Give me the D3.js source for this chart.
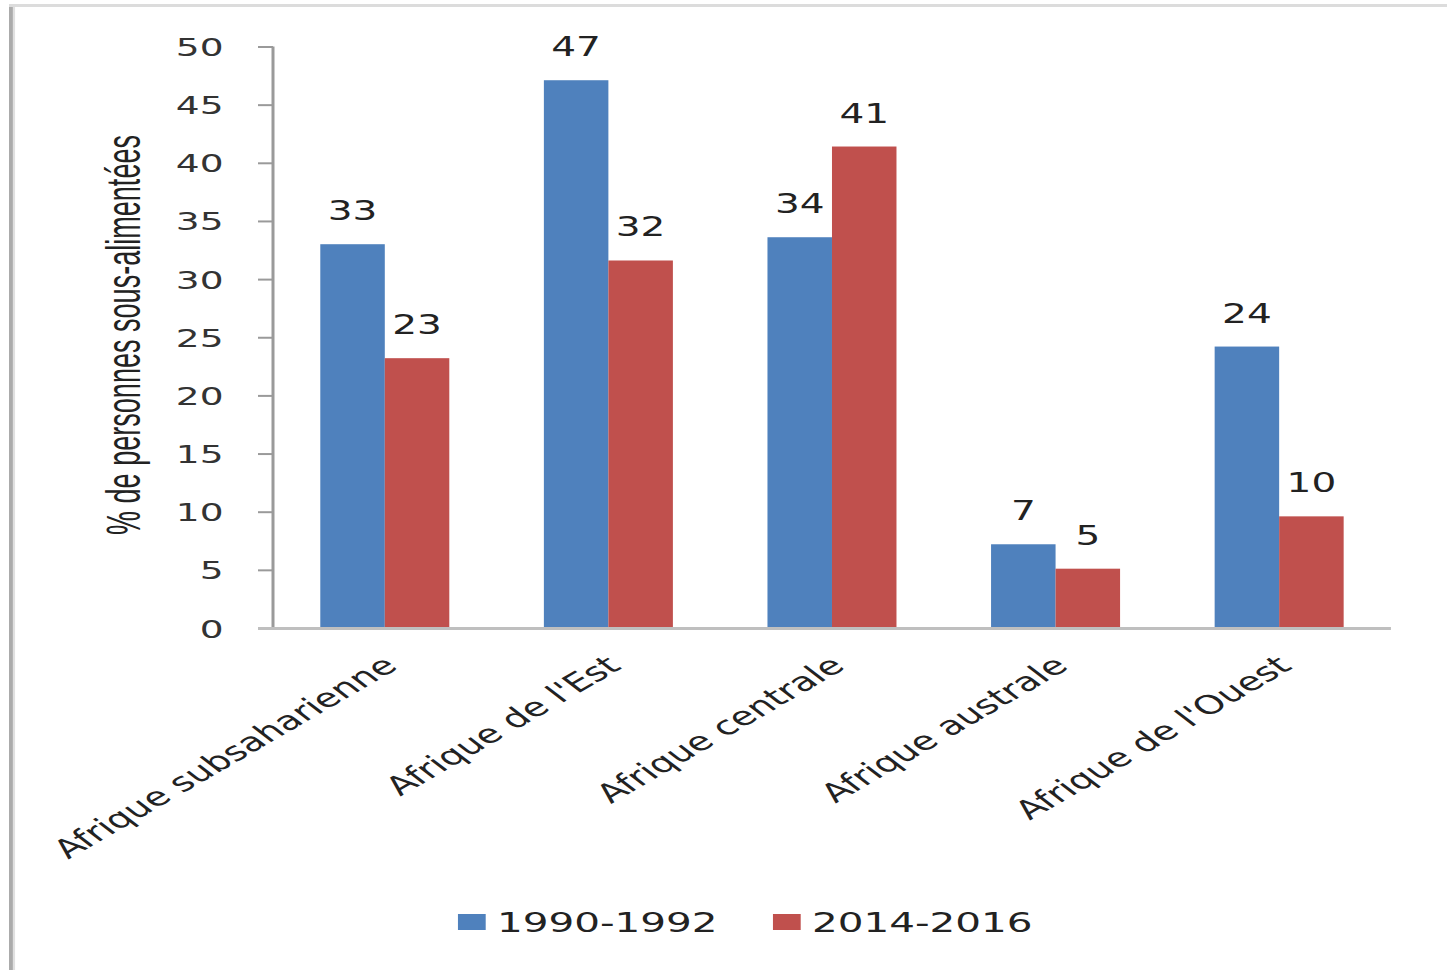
<!DOCTYPE html>
<html>
<head>
<meta charset="utf-8">
<script src="https://cdn.jsdelivr.net/npm/d3@7"></script>
<style>
html,body{margin:0;padding:0;background:#fff;overflow:hidden;}
svg{display:block;}
</style>
</head>
<body>
<script>
// ---- data ----
const categories = ["Afrique subsaharienne", "Afrique de l'Est", "Afrique centrale", "Afrique australe", "Afrique de l'Ouest"];
const series = ["1990-1992", "2014-2016"];
const values1990 = [33.0, 47.1, 33.6, 7.2, 24.2];
const values2014 = [23.2, 31.6, 41.4, 5.1, 9.6];
const labels1990 = ["33", "47", "34", "7", "24"];
const labels2014 = ["23", "32", "41", "5", "10"];
const yTicks = [0, 5, 10, 15, 20, 25, 30, 35, 40, 45, 50];
const yTitle = "% de personnes sous-alimentées";
const colors = ["#4F81BD", "#C0504D"];

// ---- layout (drawn in an unstretched space, stretched horizontally to the window) ----
const W = 1447, H = 970, SX = 1.5;
const W0 = W / SX;
const svg = d3.select("body").append("svg")
  .attr("width", W).attr("height", H)
  .attr("viewBox", `0 0 ${W0} ${H}`)
  .attr("preserveAspectRatio", "none");

// frame
svg.append("line").attr("x1", 7.5).attr("x2", 7.5).attr("y1", 4).attr("y2", H)
  .attr("stroke", "#ababab").attr("stroke-width", 3);
svg.append("line").attr("x1", 9.3).attr("x2", 9.3).attr("y1", 4).attr("y2", H)
  .attr("stroke", "#e0e0e0").attr("stroke-width", 1.5);
svg.append("line").attr("x1", 6).attr("x2", W0).attr("y1", 5.5).attr("y2", 5.5)
  .attr("stroke", "#dcdcdc").attr("stroke-width", 3);

const plotL = 182, plotR = 927.3, plotT = 46.5, plotB = 628;

const y = d3.scaleLinear().domain([0, 50]).range([plotB, plotT]);
const x0 = d3.scaleBand().domain(categories).range([plotL, plotR])
  .paddingInner(0.423).paddingOuter(0.2115);
const x1 = d3.scaleBand().domain(series).range([0, x0.bandwidth()]);

const data = categories.map((c, i) => ({
  cat: c,
  vals: [
    {s: series[0], v: values1990[i], lab: labels1990[i]},
    {s: series[1], v: values2014[i], lab: labels2014[i]}
  ]
}));

// y axis
const yAxis = d3.axisLeft(y).tickValues(yTicks).tickSize(10).tickPadding(23).tickFormat(d3.format("d"));
const gy = svg.append("g").attr("transform", `translate(${plotL},0)`).call(yAxis);
gy.select(".domain").attr("stroke", "#9a9a9a").attr("stroke-width", 2).attr("d", `M0,${plotT}V${plotB}`);
gy.selectAll(".tick line").attr("stroke", "#9a9a9a").attr("stroke-width", 2);
gy.selectAll(".tick text").attr("font-family", "DejaVu Sans, Verdana, sans-serif")
  .attr("font-size", 25).attr("fill", "#333").attr("dy", "0.36em");

// bars
const groups = svg.append("g").selectAll("g").data(data).join("g")
  .attr("transform", d => `translate(${x0(d.cat)},0)`);
groups.selectAll("rect").data(d => d.vals).join("rect")
  .attr("x", d => x1(d.s))
  .attr("width", x1.bandwidth())
  .attr("y", d => y(d.v))
  .attr("height", d => y(0) - y(d.v))
  .attr("fill", (d, i) => colors[i]);

// data labels
groups.selectAll("text").data(d => d.vals).join("text")
  .attr("x", d => x1(d.s) + x1.bandwidth() / 2)
  .attr("y", d => y(d.v) - 24)
  .attr("text-anchor", "middle")
  .attr("font-family", "DejaVu Sans, Verdana, sans-serif")
  .attr("font-size", 26)
  .attr("fill", "#222")
  .text(d => d.lab);

// x axis line
svg.append("line").attr("x1", plotL - 10).attr("x2", plotR).attr("y1", plotB + 0.5).attr("y2", plotB + 0.5)
  .attr("stroke", "#bfbfbf").attr("stroke-width", 3);

// category labels
svg.append("g").selectAll("text").data(categories).join("text")
  .attr("transform", d => `translate(${x0(d) + x0.bandwidth() / 2 + 9.5},${plotB + 40}) rotate(-41)`)
  .attr("text-anchor", "end")
  .attr("font-family", "DejaVu Sans, Verdana, sans-serif")
  .attr("font-size", 26)
  .attr("fill", "#222")
  .text(d => d);

// y title
svg.append("text")
  .attr("transform", `translate(93,335) rotate(-90)`)
  .attr("text-anchor", "middle")
  .attr("font-family", "Liberation Sans Narrow, Liberation Sans, Arial, sans-serif")
  .attr("font-size", 32)
  .attr("fill", "#222")
  .attr("textLength", 400)
  .attr("lengthAdjust", "spacingAndGlyphs")
  .text(yTitle);

// legend
const legX = [305.3, 515.3];
const leg = svg.append("g").selectAll("g").data(series).join("g")
  .attr("transform", (d, i) => `translate(${legX[i]},914)`);
leg.append("rect").attr("width", 18.5).attr("height", 16).attr("fill", (d, i) => colors[i]);
leg.append("text").attr("x", 26).attr("y", 17.5)
  .attr("font-family", "DejaVu Sans, Verdana, sans-serif")
  .attr("font-size", 27).attr("fill", "#222")
  .text(d => d);
</script>
</body>
</html>
